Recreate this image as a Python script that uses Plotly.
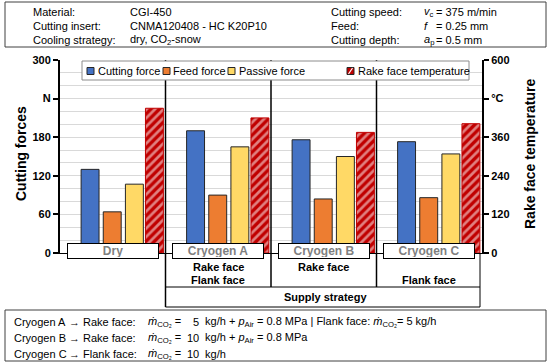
import plotly.graph_objects as go

# ---------------- data ----------------
categories = ["Dry", "Cryogen A", "Cryogen B", "Cryogen C"]
cutting_force = [130, 190, 176, 173]      # N
feed_force = [64, 90, 84, 86]             # N
passive_force = [107, 165, 150, 154]      # N
rake_temp = [450, 420, 375, 402]          # degC

supply_row1 = ["", "Rake face", "Rake face", ""]
supply_row2 = ["", "Flank face", "", "Flank face"]

left_tickvals = [0, 60, 120, 180, 240, 300]
left_ticktext = ["0", "60", "120", "180", "N", "300"]
right_tickvals = [0, 120, 240, 360, 480, 600]
right_ticktext = ["0", "120", "240", "360", "°C", "600"]

legend_names = ["Cutting force", "Feed force", "Passive force", "Rake face temperature"]

# ---------------- layout helpers ----------------
W, H = 550, 363
PL, PR, PT, PB = 60, 482, 60, 253
FONT = "Arial, Liberation Sans, sans-serif"


def px(x):
    return (x - PL) / (PR - PL)


def py(y):
    return (PB - y) / (PB - PT)


BLUE, ORANGE, YELLOW, RED = "#4472C4", "#ED7D31", "#FFD966", "#C00000"
EDGE = "#262626"

fig = go.Figure()

bar_width = 0.17
offsets = [-0.30, -0.09, 0.12, 0.31]

fig.add_trace(go.Bar(x=categories, y=cutting_force, name=legend_names[0],
                     marker=dict(color=BLUE, line=dict(color=EDGE, width=1)),
                     width=bar_width, offset=offsets[0], yaxis="y"))
fig.add_trace(go.Bar(x=categories, y=feed_force, name=legend_names[1],
                     marker=dict(color=ORANGE, line=dict(color=EDGE, width=1)),
                     width=bar_width, offset=offsets[1], yaxis="y"))
fig.add_trace(go.Bar(x=categories, y=passive_force, name=legend_names[2],
                     marker=dict(color=YELLOW, line=dict(color=EDGE, width=1)),
                     width=bar_width, offset=offsets[2], yaxis="y"))
fig.add_trace(go.Bar(x=categories, y=rake_temp, name=legend_names[3],
                     marker=dict(color=RED, line=dict(color=RED, width=1),
                                 pattern=dict(shape="/", bgcolor=RED, fgcolor="white",
                                              size=6, solidity=0.45)),
                     width=bar_width, offset=offsets[3], yaxis="y2"))

shapes = []
annotations = []


def line(x0, y0, x1, y1, color="black", width=1):
    shapes.append(dict(type="line", xref="paper", yref="paper",
                       x0=px(x0), y0=py(y0), x1=px(x1), y1=py(y1),
                       line=dict(color=color, width=width), layer="above"))


def rect(x0, y0, x1, y1, fill="white", color="black", width=1):
    shapes.append(dict(type="rect", xref="paper", yref="paper",
                       x0=px(x0), y0=py(y0), x1=px(x1), y1=py(y1),
                       fillcolor=fill, line=dict(color=color, width=width), layer="above"))


def txt(x, y, text, size=11, bold=False, xanchor="left", color="black", angle=0):
    annotations.append(dict(xref="paper", yref="paper", x=px(x), y=py(y),
                            text=("<b>%s</b>" % text) if bold else text,
                            showarrow=False, xanchor=xanchor, yanchor="middle",
                            textangle=angle,
                            font=dict(family=FONT, size=size, color=color)))


# group separators inside plot and the supply-strategy table below
n = len(categories)
cat_w = (PR - PL) / n
bounds = [PL + cat_w * (i + 1) for i in range(n - 1)]
line(bounds[0], PT, bounds[0], 307, width=1.5)
for b in bounds[1:]:
    line(b, PT, b, 287, width=1.5)
line(480, PB, 480, 307)
line(bounds[0], 287, 480, 287)
line(bounds[0], 307, 480, 307)

# legend box
rect(82, 61, 469, 80, color="#8C8C8C")
icon_x = [87, 163, 228, 347]
text_x = [96, 171, 237, 356]
icon_col = [BLUE, ORANGE, YELLOW, RED]
for ix, tx, c, name in zip(icon_x, text_x, icon_col, legend_names):
    rect(ix, 67.5, ix + 7, 74.5, fill=c, color=EDGE)
    txt(tx, 71, name, size=11)
# hatch hint on temperature icon
line(icon_x[3] + 1.5, 74, icon_x[3] + 5.5, 68, color="white", width=1.2)

# category label boxes
for c in categories:
    annotations.append(dict(xref="x", yref="paper", x=c, y=py(251),
                            text="<b>%s</b>" % c, showarrow=False,
                            xanchor="center", yanchor="middle",
                            width=88, height=12, borderpad=1,
                            bgcolor="white", bordercolor="black", borderwidth=1,
                            font=dict(family=FONT, size=12, color="#7F7F7F")))

# supply strategy labels
for i in range(n):
    cx = PL + cat_w * (i + 0.5)
    if supply_row1[i]:
        txt(cx, 267, supply_row1[i], bold=True, xanchor="center")
    if supply_row2[i]:
        txt(cx, 280, supply_row2[i], bold=True, xanchor="center")
txt(282, 297, "Supply strategy", bold=True)

# axis titles
txt(21, 154, "Cutting forces", size=14, bold=True, xanchor="center", angle=-90)
txt(530, 154, "Rake face temperature", size=14, bold=True, xanchor="center", angle=-90)

# top info box
rect(5, 2, 546, 47, color="#404040")
rows_top = [11.5, 25.5, 39.5]
col1 = ["Material:", "Cutting insert:", "Cooling strategy:"]
col2 = ["CGI-450", "CNMA120408 - HC K20P10", "dry, CO<sub>2</sub>-snow"]
col3 = ["Cutting speed:", "Feed:", "Cutting depth:"]
col4_sym = ["<i>v</i><sub>c</sub>", "<i>f</i>", "<i>a</i><sub>p</sub>"]
col4_val = ["= 375 m/min", "= 0.25 mm", "= 0.5 mm"]
for r, a, b, c, d, e in zip(rows_top, col1, col2, col3, col4_sym, col4_val):
    txt(31, r, a)
    txt(128, r, b)
    txt(329, r, c)
    txt(422, r, d)
    txt(434, r, e)

# bottom info box
rect(5, 310, 546, 361, color="#404040")
rows_bot = [322, 338, 354]
b1 = ["Cryogen A", "Cryogen B", "Cryogen C"]
b2 = ["→ Rake face:", "→ Rake face:", "→ Flank face:"]
b_num = ["5", "10", "10"]
b_rest = [" kg/h + <i>p</i><sub>Air</sub> = 0.8 MPa | Flank face: <i>ṁ</i><sub>CO₂</sub>= 5 kg/h",
          " kg/h + <i>p</i><sub>Air</sub> = 0.8 MPa",
          " kg/h"]
for r, a, b, nm, rest in zip(rows_bot, b1, b2, b_num, b_rest):
    txt(12, r, a)
    txt(67, r, b)
    txt(146, r, "<i>ṁ</i><sub>CO₂</sub> =")
    txt(201, r, nm, xanchor="right")
    txt(200, r, rest)

fig.update_layout(
    width=W, height=H,
    margin=dict(l=PL, r=W - PR, t=PT, b=H - PB),
    paper_bgcolor="white", plot_bgcolor="white",
    barmode="overlay", showlegend=False,
    font=dict(family=FONT, size=11, color="black"),
    xaxis=dict(range=[-0.5, 3.5], showticklabels=False, ticks="",
               showline=True, linecolor="black", linewidth=1, showgrid=False,
               zeroline=False, fixedrange=True),
    yaxis=dict(range=[0, 300], tickvals=left_tickvals, ticktext=left_ticktext,
               ticks="outside", ticklen=5, tickcolor="black", tickwidth=1.5,
               showline=True, linecolor="black", linewidth=2,
               showgrid=True, gridcolor="#D9D9D9", gridwidth=1, zeroline=False,
               minor=dict(dtick=20, showgrid=True, gridcolor="#D9D9D9", gridwidth=1),
               tickfont=dict(family=FONT, size=11, color="black", weight="bold")),
    yaxis2=dict(range=[0, 600], tickvals=right_tickvals, ticktext=right_ticktext,
                overlaying="y", side="right",
                ticks="outside", ticklen=5, tickcolor="black", tickwidth=1.5,
                showline=True, linecolor="black", linewidth=2,
                showgrid=False, zeroline=False,
                tickfont=dict(family=FONT, size=11, color="black", weight="bold")),
    shapes=shapes,
    annotations=annotations,
)

fig.write_html(
    "out.html",
    config={"displayModeBar": False},
    post_script="document.body.style.margin='0';document.body.style.overflow='hidden';",
)
